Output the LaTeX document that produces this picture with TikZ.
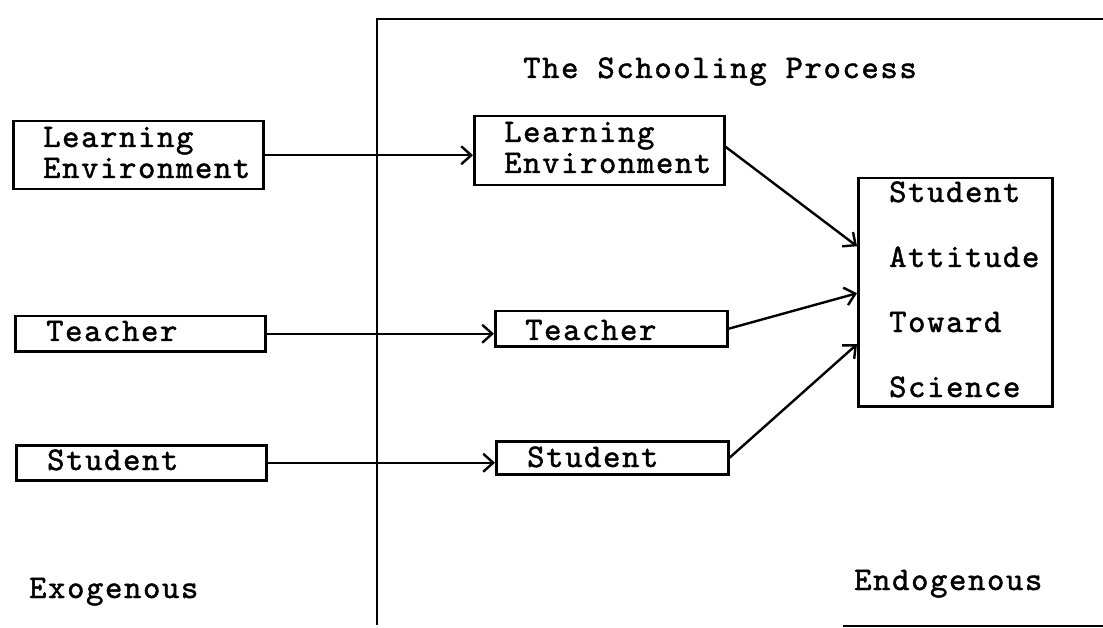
\documentclass[tikz,border=0pt]{standalone}
\usepackage{fontspec}
\newfontfamily\typewriter[LetterSpace=5,FakeBold=1.4]{lmmono10-regular.otf}
\usetikzlibrary{arrows.meta}
\begin{document}
\begin{tikzpicture}[x=1pt,y=-1pt,
  box/.style={draw,line width=2.5pt,minimum width=#1,inner sep=0pt,anchor=north west},
  lbl/.style={anchor=base west,inner sep=0pt,font=\typewriter\fontsize{33}{33}\selectfont},
  link/.style={line width=2.4pt,-{Straight Barb[length=10pt,width=18pt,line width=2.4pt]}}]
\useasboundingbox (0,0) rectangle (1103,628);

% frame of the schooling process
\draw[line width=2.5pt] (377,625) -- (377,19) -- (1103,19);
\draw[line width=2.5pt] (843,626) -- (1103,626);

% exogenous boxes
\node[box=250pt,minimum height=68pt] (eLE) at (12,120) {};
\node[box=250pt,minimum height=35pt] (eT)  at (14,315) {};
\node[box=250pt,minimum height=35pt] (eS)  at (15,444) {};
% endogenous boxes
\node[box=250pt,minimum height=69pt] (iLE) at (473,115) {};
\node[box=232pt,minimum height=35pt] (iT)  at (494,310) {};
\node[box=232pt,minimum height=33pt] (iS)  at (495,440) {};
\node[box=194pt,minimum height=228pt] (out) at (857,177) {};

% texts
\node[lbl] (tLE1) at (43,147) {Learning};
\node[lbl] (tLE2) at (43,178) {Environment};
\node[lbl] (tT)   at (46,341) {Teacher};
\node[lbl] (tS)   at (47,470) {Student};
\node[lbl] (exo)  at (29,598) {Exogenous};
\node[lbl] (ttl)  at (523,78) {The Schooling Process};
\node[lbl] (uLE1) at (504,142) {Learning};
\node[lbl] (uLE2) at (504,173) {Environment};
\node[lbl] (uT)   at (525,340) {Teacher};
\node[lbl] (uS)   at (527,467) {Student};
\node[lbl] (o1)   at (889,202) {Student};
\node[lbl] (o2)   at (889,267) {Attitude};
\node[lbl] (o3)   at (889,332) {Toward};
\node[lbl] (o4)   at (889,397) {Science};
\node[lbl] (endo) at (854,590) {Endogenous};

% connectors
\draw[link] (eLE.east) -- (eLE.east -| iLE.west);
\draw[link] (eT.east) -- (eT.east -| iT.west);
\draw[link] (eS.east) -- (eS.east -| iS.west);
\draw[link] ([yshift=4pt]iLE.east) -- ([yshift=46pt]out.west);
\draw[link] (iT.east) -- ([yshift=-1pt]out.west);
\draw[link] (iS.east) -- ([yshift=-52pt]out.west);
\end{tikzpicture}
\end{document}
